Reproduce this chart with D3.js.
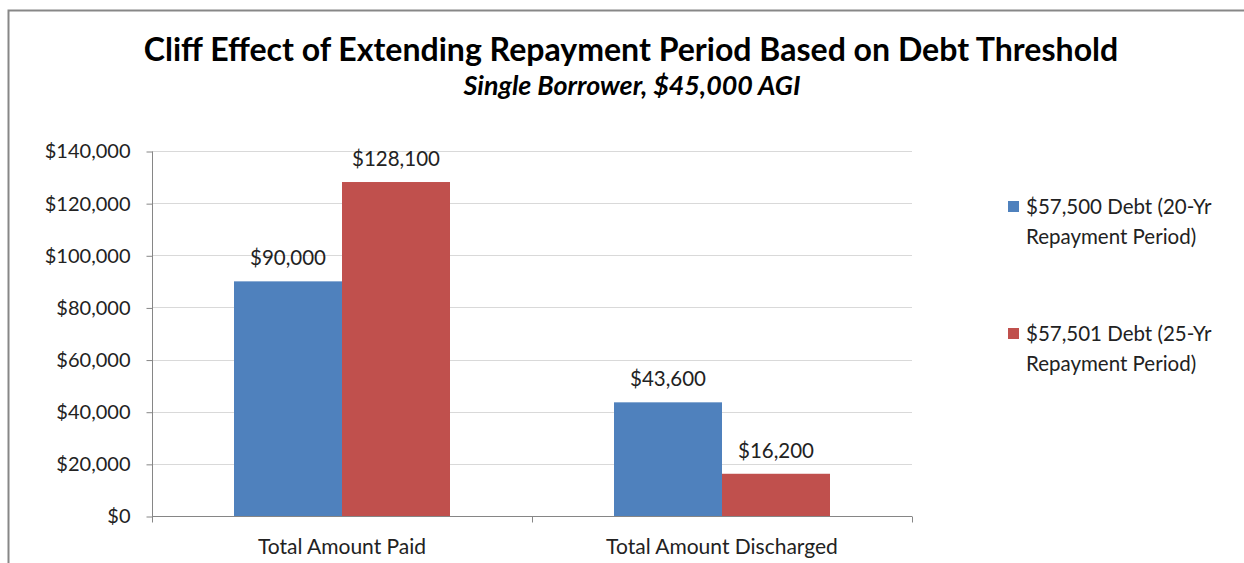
<!DOCTYPE html>
<html>
<head>
<meta charset="utf-8">
<script src="https://cdn.jsdelivr.net/npm/d3@7"></script>
<style>
  body { margin: 0; background: #fff; }
  text { font-family: Lato, "Open Sans", sans-serif; fill: #222; }
</style>
</head>
<body>
<script>
// chart values
var categories = ["Total Amount Paid", "Total Amount Discharged"];
var seriesNames = ["$57,500 Debt (20-Yr Repayment Period)", "$57,501 Debt (25-Yr Repayment Period)"];
var legendLines = [["$57,500 Debt (20-Yr", "Repayment Period)"], ["$57,501 Debt (25-Yr", "Repayment Period)"]];
var debt20yr = [90000, 43600];
var debt25yr = [128100, 16200];
var yTicks = [0, 20000, 40000, 60000, 80000, 100000, 120000, 140000];
var colors = ["#4f81bd", "#c0504d"];

window.onload = drawChart();

function drawChart(){

    var width = 1244,
        height = 563;

    var svg = d3.select("body")
        .append("svg")
        .attr("width", width)
        .attr("height", height);

    //outer chart frame (runs off right and bottom)
    svg.append("rect")
        .attr("x", 8.5).attr("y", 10.5)
        .attr("width", 1260).attr("height", 600)
        .attr("fill", "none")
        .attr("stroke", "#878787")
        .attr("stroke-width", 2);

    //plot area
    var left = 152, right = 912, top = 151, bottom = 516;

    var x0 = d3.scaleBand()
        .domain(categories)
        .range([left, right])
        .paddingInner(0)
        .paddingOuter(0);

    var x1 = d3.scaleBand()
        .domain([0, 1])
        .range([82, x0.bandwidth() - 82]);

    var y = d3.scaleLinear()
        .domain([0, 140000])
        .range([bottom, top]);

    //gridlines
    svg.append("g")
        .selectAll("line")
        .data(yTicks.slice(1))
        .enter()
        .append("line")
        .attr("x1", left).attr("x2", right)
        .attr("y1", function(d){ return Math.round(y(d)) + 0.5; })
        .attr("y2", function(d){ return Math.round(y(d)) + 0.5; })
        .attr("stroke", "#d9d9d9");

    //y axis
    var yAxis = svg.append("g")
        .attr("transform", "translate(" + (left + 0.5) + ",0.5)")
        .call(d3.axisLeft(y)
            .tickValues(yTicks)
            .tickSize(6)
            .tickPadding(16)
            .tickFormat(function(d){ return "$" + d3.format(",")(d); }));
    yAxis.select(".domain").attr("stroke", "#868686").attr("d", "M0," + top + "V" + bottom);
    yAxis.selectAll(".tick line").attr("stroke", "#868686");
    yAxis.selectAll(".tick text")
        .attr("font-size", 20)
        .attr("fill", "#222")
        .style("font-family", "Lato, sans-serif");

    //bars
    var groups = svg.append("g")
        .selectAll("g")
        .data(categories)
        .enter()
        .append("g")
        .attr("transform", function(d){ return "translate(" + x0(d) + ",0)"; });

    groups.selectAll("rect")
        .data(function(d, i){ return [debt20yr[i], debt25yr[i]]; })
        .enter()
        .append("rect")
        .attr("x", function(d, j){ return x1(j); })
        .attr("width", x1.bandwidth())
        .attr("y", function(d){ return y(d); })
        .attr("height", function(d){ return bottom - y(d); })
        .attr("fill", function(d, j){ return colors[j]; });

    groups.selectAll("text")
        .data(function(d, i){ return [debt20yr[i], debt25yr[i]]; })
        .enter()
        .append("text")
        .attr("x", function(d, j){ return x1(j) + x1.bandwidth() / 2; })
        .attr("y", function(d){ return y(d) - 16; })
        .attr("text-anchor", "middle")
        .attr("font-size", 20.5)
        .text(function(d){ return "$" + d3.format(",")(d); });

    //x axis
    var xAxis = svg.append("g")
        .attr("transform", "translate(0," + (bottom + 0.5) + ")");
    xAxis.append("line")
        .attr("x1", left).attr("x2", right)
        .attr("stroke", "#868686");
    xAxis.selectAll(".sep")
        .data([left, left + x0.bandwidth(), right])
        .enter()
        .append("line")
        .attr("x1", function(d){ return Math.round(d) + 0.5; })
        .attr("x2", function(d){ return Math.round(d) + 0.5; })
        .attr("y1", 0).attr("y2", 6)
        .attr("stroke", "#868686");
    xAxis.selectAll(".cat")
        .data(categories)
        .enter()
        .append("text")
        .attr("x", function(d){ return x0(d) + x0.bandwidth() / 2; })
        .attr("y", 37)
        .attr("text-anchor", "middle")
        .attr("font-size", 21)
        .text(function(d){ return d; });

    //titles
    var title = svg.append("text")
        .attr("x", 631).attr("y", 61)
        .attr("text-anchor", "middle")
        .attr("font-size", 27)
        .attr("font-weight", "bold")
        .style("fill", "#000")
        .text("Cliff Effect of Extending Repayment Period Based on Debt Threshold");
    var tw = title.node().getComputedTextLength();
    title.attr("font-size", 27 * 975 / tw);

    var sub = svg.append("text")
        .attr("x", 632).attr("y", 95)
        .attr("text-anchor", "middle")
        .attr("font-size", 20)
        .attr("font-weight", "bold")
        .attr("font-style", "italic")
        .style("fill", "#000")
        .text("Single Borrower, $45,000 AGI");
    var sw = sub.node().getComputedTextLength();
    sub.attr("font-size", 20 * 337 / sw);

    //legend
    var legend = svg.append("g")
        .selectAll("g")
        .data(seriesNames)
        .enter()
        .append("g")
        .attr("transform", function(d, i){ return "translate(1008," + (201 + i * 127) + ")"; });
    legend.append("rect")
        .attr("width", 11).attr("height", 11)
        .attr("fill", function(d, i){ return colors[i]; });
    legend.append("text")
        .attr("x", 18)
        .attr("y", 13)
        .attr("font-size", 20.5)
        .selectAll("tspan")
        .data(function(d, i){ return legendLines[i]; })
        .enter()
        .append("tspan")
        .attr("x", 18)
        .attr("dy", function(d, k){ return k === 0 ? 0 : 30; })
        .text(function(d){ return d; });
};
</script>
</body>
</html>
